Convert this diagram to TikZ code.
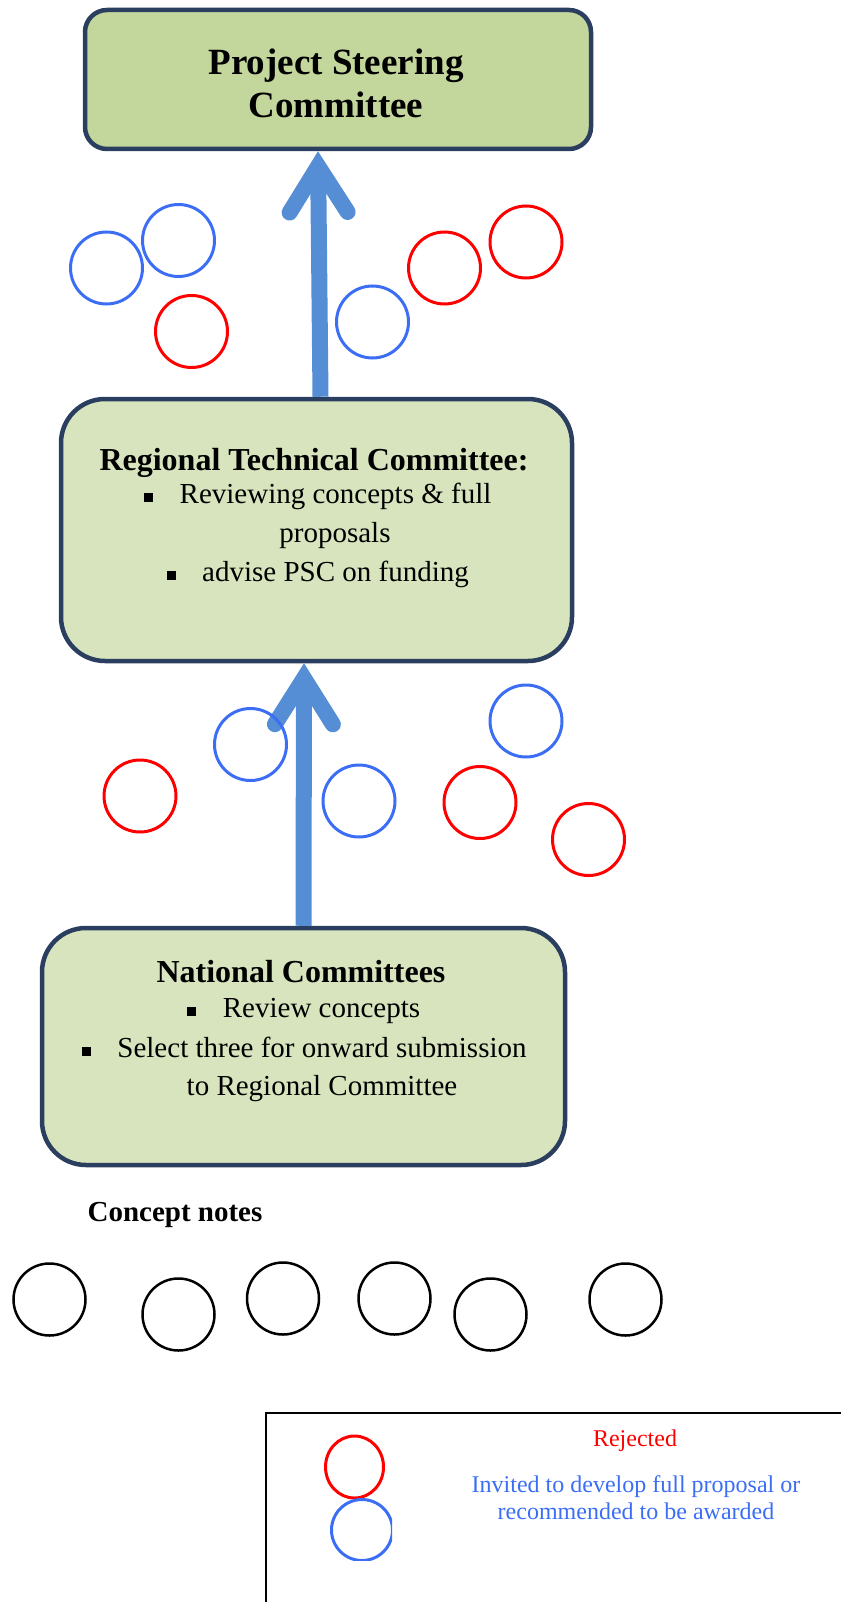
\documentclass[tikz,border=0pt]{standalone}
\usepackage{fontspec}
\setmainfont{Liberation Serif}
\usetikzlibrary{arrows.meta,positioning,shapes.geometric}
\definecolor{frame}{HTML}{2A3F5F}
\definecolor{olive}{HTML}{C3D69B}
\definecolor{pale}{HTML}{D7E4BD}
\definecolor{flowblue}{HTML}{558ED5}
\definecolor{okblue}{HTML}{3B6EF5}
\definecolor{nored}{HTML}{FF0000}

\begin{document}
\begin{tikzpicture}[x=1pt, y=-1pt,
  board/.style={draw=frame, line width=4.5pt, fill=pale, rounded corners=44pt, inner sep=0pt},
  txt/.style={inner sep=0pt, text height=20pt, text depth=7pt, font=\fontsize{29}{34}\selectfont},
  head/.style={inner sep=0pt, font=\fontsize{32}{38}\selectfont\bfseries},
  bullet/.style={fill=black, minimum size=9pt, inner sep=0pt},
  flow/.style={draw=flowblue, line width=16pt,
               -{Straight Barb[length=46pt, width=58pt, line cap=round, line join=miter]}},
  note/.style={circle, draw=black, line width=2.5pt, minimum size=72pt, inner sep=0pt},
  ok/.style={note, draw=okblue, line width=3pt},
  no/.style={note, draw=nored, line width=3pt}]
  \useasboundingbox (0,0) rectangle (840,1602);

  % committees
  \node[board, fill=olive, rounded corners=22pt, minimum width=506pt, minimum height=139pt] (psc) at (338,79.5) {};
  \node[align=center, inner sep=0pt, font=\fontsize{37}{43}\selectfont\bfseries] (psc-t) at (336,83) {Project Steering\\Committee};

  \node[board, minimum width=511pt, minimum height=262pt] (rtc) at (316.5,530) {};
  \node[head] (rtc-t) at (314,463) {Regional Technical Committee:};
  \node[txt] (rtc-l1) at (335.5,497) {Reviewing concepts \& full};
  \node[txt] (rtc-l2) at (335,536) {proposals};
  \node[txt] (rtc-l3) at (335.5,575) {advise PSC on funding};
  \node[bullet, left=26pt of rtc-l1] (rtc-b1) {};
  \node[bullet, left=26pt of rtc-l3] (rtc-b3) {};

  \node[board, minimum width=523pt, minimum height=237pt] (nc) at (303.5,1046.5) {};
  \node[head] (nc-t) at (301,972) {National Committees};
  \node[txt] (nc-l1) at (321.5,1011) {Review concepts};
  \node[txt] (nc-l2) at (322,1051) {Select three for onward submission};
  \node[txt] (nc-l3) at (322,1089) {to Regional Committee};
  \node[bullet, left=26pt of nc-l1] (nc-b1) {};
  \node[bullet, left=26pt of nc-l2] (nc-b2) {};

  % flow upwards
  \draw[flow] ([xshift=4pt]rtc.north) -- ([xshift=-20pt]psc.south);
  \draw[flow] (nc.north) -- ([xshift=-12.5pt]rtc.south);

  % proposals between levels
  \node[ok] (u1) at (106.5,268) {};
  \node[ok] (u2) at (178.5,240.5) {};
  \node[no] (u3) at (191.5,331.5) {};
  \node[ok] (u4) at (372.5,322) {};
  \node[no] (u5) at (444.5,268) {};
  \node[no] (u6) at (526,242) {};

  \node[no] (m1) at (140,796) {};
  \node[ok] (m2) at (250.5,744.5) {};
  \node[ok] (m3) at (359,801) {};
  \node[no] (m4) at (480,802.5) {};
  \node[ok] (m5) at (526,721) {};
  \node[no] (m6) at (588.5,839.5) {};

  % concept notes
  \node[inner sep=0pt, font=\fontsize{29}{34}\selectfont\bfseries] (cn) at (175,1215) {Concept notes};
  \foreach \x/\y [count=\i] in {49.5/1299.5, 178.5/1314.5, 283/1298.5, 394.5/1298.5, 490.5/1314.5, 625.5/1299.5}
    \node[note] (c\i) at (\x,\y) {};

  % legend
  \draw[line width=1.5pt] (266,1413) rectangle (870,1630);
  \node[no, ellipse, minimum width=58pt, minimum height=62pt] (key-no) at (354.5,1467) {};
  \begin{scope}
    \clip (266,1413) rectangle (392,1560);
    \node[ok, minimum size=61pt] (key-ok) at (362,1530) {};
  \end{scope}
  \node[text=nored, inner sep=0pt, font=\fontsize{24}{27}\selectfont] (key-no-t) at (635,1441) {Rejected};
  \node[text=okblue, align=center, inner sep=0pt, font=\fontsize{24}{27}\selectfont] (key-ok-t) at (636,1498)
    {Invited to develop full proposal or\\recommended to be awarded};
\end{tikzpicture}
\end{document}
